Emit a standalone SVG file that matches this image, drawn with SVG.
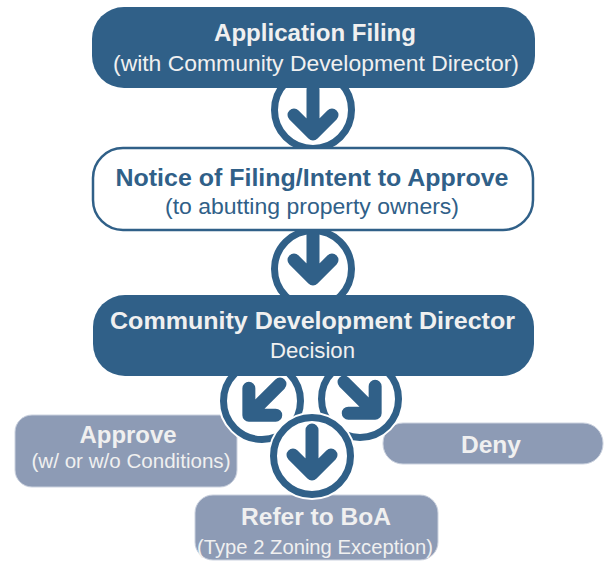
<svg xmlns="http://www.w3.org/2000/svg" width="605" height="562" viewBox="0 0 605 562">
<style>
  text { font-family: "Liberation Sans", Arial, sans-serif; text-anchor: middle; }
  .dark { fill: #306088; }
  .light { fill: #8D9BB5; stroke: #CBD2DF; stroke-width: 1; }
  .outline { fill: #FFFFFF; stroke: #306088; stroke-width: 2.5; }
  .b { font-weight: bold; }
  .wt { fill: #F0F0F0; }
  .bt { fill: #306088; }
  .halo { fill: #FFFFFF; stroke: #FFFFFF; stroke-width: 10; }
  .ring { fill: none; stroke: #306088; stroke-width: 7; }
  .arr { fill: none; stroke: #306088; stroke-width: 13; stroke-linecap: round; stroke-linejoin: round; }
</style>
<defs>
  <g id="arrow">
    <path class="arr" d="M0,-24 V20 M-19,1 L0,20 L19,1"/>
  </g>
</defs>

<g id="node-approve">
  <rect class="light" x="15" y="415" width="222" height="72" rx="17"/>
  <text class="b wt" x="128" y="443" font-size="23" textLength="97" lengthAdjust="spacingAndGlyphs">Approve</text>
  <text class="wt" x="131" y="468" font-size="20" textLength="199" lengthAdjust="spacingAndGlyphs">(w/ or w/o Conditions)</text>
</g>
<g id="node-deny">
  <rect class="light" x="383" y="423" width="220" height="41" rx="20"/>
  <text class="b wt" x="491" y="453" font-size="24" textLength="60" lengthAdjust="spacingAndGlyphs">Deny</text>
</g>
<g id="node-refer">
  <rect class="light" x="195" y="495" width="243" height="65" rx="18"/>
  <text class="b wt" x="316" y="525" font-size="23" textLength="150" lengthAdjust="spacingAndGlyphs">Refer to BoA</text>
  <text class="wt" x="315" y="554" font-size="20" textLength="236" lengthAdjust="spacingAndGlyphs">(Type 2 Zoning Exception)</text>
</g>

<g id="connectors">
  <g id="conn-1">
    <circle class="halo" cx="313" cy="110" r="39"/>
    <circle class="ring" cx="313" cy="110" r="38.5"/>
    <use href="#arrow" transform="translate(313,114)"/>
  </g>
  <g id="conn-2">
    <circle class="halo" cx="313" cy="269" r="39"/>
    <circle class="ring" cx="313" cy="269" r="38.5"/>
    <use href="#arrow" transform="translate(313,259)"/>
  </g>
  <g id="conn-approve">
    <circle class="halo" cx="262" cy="401" r="39"/>
    <circle class="ring" cx="262" cy="401" r="38.5"/>
    <use href="#arrow" transform="translate(263,401) rotate(45)"/>
  </g>
  <g id="conn-deny">
    <circle class="halo" cx="360" cy="399" r="39"/>
    <circle class="ring" cx="360" cy="399" r="38.5"/>
    <use href="#arrow" transform="translate(361,399) rotate(-45)"/>
  </g>
  <g id="conn-refer">
    <circle class="halo" cx="312" cy="456" r="39"/>
    <circle class="ring" cx="312" cy="456" r="38.5"/>
    <use href="#arrow" transform="translate(312,454)"/>
  </g>
</g>

<g id="node-filing">
  <rect class="dark" x="92" y="7" width="443" height="81" rx="32"/>
  <text class="b wt" x="315" y="41" font-size="24" textLength="202" lengthAdjust="spacingAndGlyphs">Application Filing</text>
  <text class="wt" x="316" y="71" font-size="22" textLength="406" lengthAdjust="spacingAndGlyphs">(with Community Development Director)</text>
</g>
<g id="node-notice">
  <rect class="outline" x="93" y="148" width="440" height="82" rx="30"/>
  <text class="b bt" x="312" y="186" font-size="24" textLength="393" lengthAdjust="spacingAndGlyphs">Notice of Filing/Intent to Approve</text>
  <text class="bt" x="312" y="214" font-size="22" textLength="294" lengthAdjust="spacingAndGlyphs">(to abutting property owners)</text>
</g>
<g id="node-decision">
  <rect class="dark" x="93" y="295" width="441" height="81" rx="32"/>
  <text class="b wt" x="312.5" y="329" font-size="24" textLength="405" lengthAdjust="spacingAndGlyphs">Community Development Director</text>
  <text class="wt" x="312.5" y="358" font-size="22" textLength="85" lengthAdjust="spacingAndGlyphs">Decision</text>
</g>
</svg>
